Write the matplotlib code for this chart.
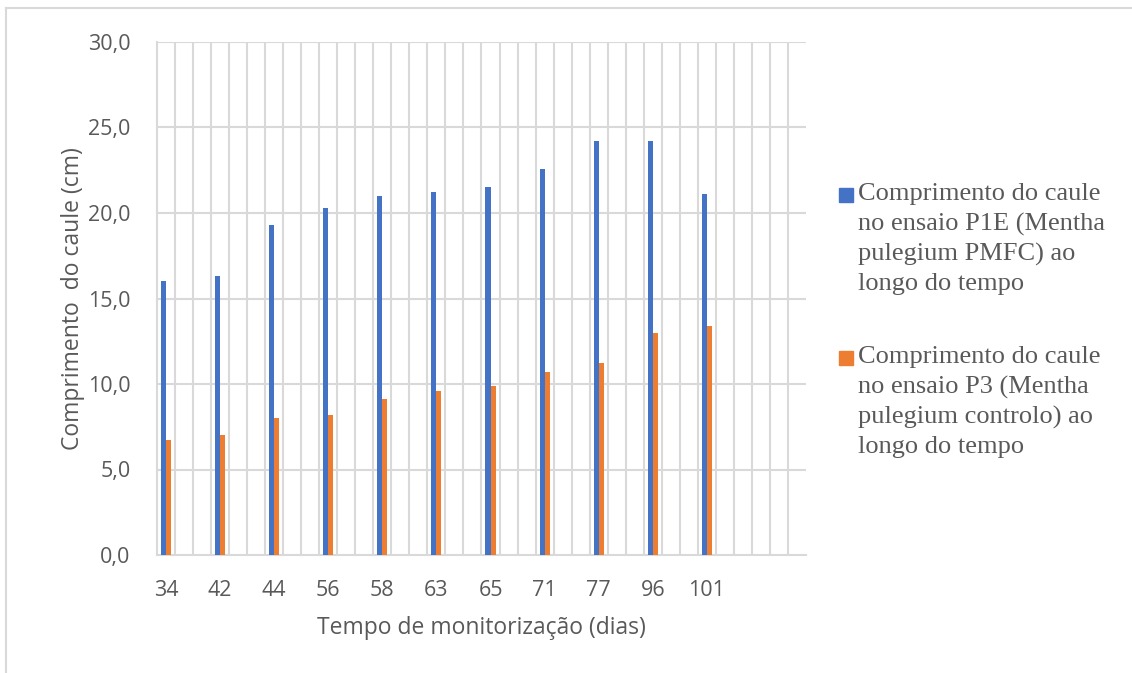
import numpy as np
import matplotlib.pyplot as plt
from matplotlib.patches import Rectangle
from matplotlib.lines import Line2D

# Dias de monitorização e comprimentos do caule (cm)
dias = ['34', '42', '44', '56', '58', '63', '65', '71', '77', '96', '101']
p1e = [16.0, 16.3, 19.3, 20.3, 21.0, 21.2, 21.5, 22.6, 24.2, 24.2, 21.1]
p3 = [6.7, 7.0, 8.0, 8.2, 9.1, 9.6, 9.9, 10.7, 11.2, 13.0, 13.4]

series = [
    ('Comprimento do caule\nno ensaio P1E (Mentha\npulegium PMFC) ao\nlongo do tempo', p1e, '#4472C4'),
    ('Comprimento do caule\nno ensaio P3 (Mentha\npulegium controlo) ao\nlongo do tempo', p3, '#ED7D31'),
]

# eixo de categorias com 3 posições por dia (36 no total), só a primeira tem dados
n_slots = 36
step = 3
pos = np.arange(len(dias)) * step
w = 0.28

W, H = 1132, 673
fig = plt.figure(figsize=(W / 100, H / 100), dpi=100)
ax = fig.add_axes([157 / W, 1 - 555 / H, (806 - 157) / W, (555 - 42) / H])

grid_c = '#d9d9d9'
txt_c = '#595959'
tick_font = 'Open Sans'

ax.bar(pos - w / 2, p1e, width=w, color=series[0][2], zorder=3)
ax.bar(pos + w / 2, p3, width=w, color=series[1][2], zorder=3)

ax.set_xlim(-0.5, n_slots - 0.5)
ax.set_ylim(0, 30)
ax.set_yticks(np.arange(0, 31, 5))
ax.set_yticklabels([f'{v:.1f}'.replace('.', ',') for v in np.arange(0, 31, 5)])
ax.set_xticks(pos)
ax.set_xticklabels(dias)

# grelha: horizontal em cada 5 cm, vertical entre cada posição
for y in np.arange(5, 31, 5):
    ax.axhline(y, color=grid_c, lw=1.5, zorder=1)
for x in np.arange(0.5, n_slots - 0.5, 1):
    ax.axvline(x, color=grid_c, lw=1.5, zorder=1)

for s in ['top', 'right']:
    ax.spines[s].set_visible(False)
ax.spines['left'].set_color(grid_c)
ax.spines['bottom'].set_color(grid_c)
ax.spines['left'].set_linewidth(1.5)
ax.spines['bottom'].set_linewidth(1.5)
ax.tick_params(axis='both', length=0, labelsize=15.5, labelcolor=txt_c)
ax.tick_params(axis='y', pad=19)
ax.tick_params(axis='x', pad=18)
for lab in ax.get_xticklabels() + ax.get_yticklabels():
    lab.set_fontfamily(tick_font)

ax.set_ylabel('Comprimento  do caule (cm)', fontsize=16.5, color=txt_c,
              fontfamily=tick_font)
ax.yaxis.set_label_coords((85 - 157) / 649, 0.5)
ax.set_xlabel('Tempo de monitorização (dias)', fontsize=16.5, color=txt_c,
              fontfamily=tick_font, labelpad=11)

# legenda com o quadrado alinhado à primeira linha
leg_tops = [188, 351]
for (label, _, color), top in zip(series, leg_tops):
    fig.patches.append(Rectangle((839 / W, 1 - (top + 14) / H), 14 / W, 14 / H,
                                 transform=fig.transFigure, color=color))
    fig.text(858 / W, 1 - (top - 5) / H, label, va='top', ha='left',
             fontsize=19, color=txt_c, fontfamily='Liberation Serif',
             linespacing=1.42)

# contorno da área do gráfico
fig.lines.append(Line2D([6 / W, 1], [1 - 8 / H, 1 - 8 / H], transform=fig.transFigure,
                        color=grid_c, lw=1.5))
fig.lines.append(Line2D([6 / W, 6 / W], [0, 1 - 8 / H], transform=fig.transFigure,
                        color=grid_c, lw=1.5))

fig.savefig('out.png', dpi=100, facecolor='white')
